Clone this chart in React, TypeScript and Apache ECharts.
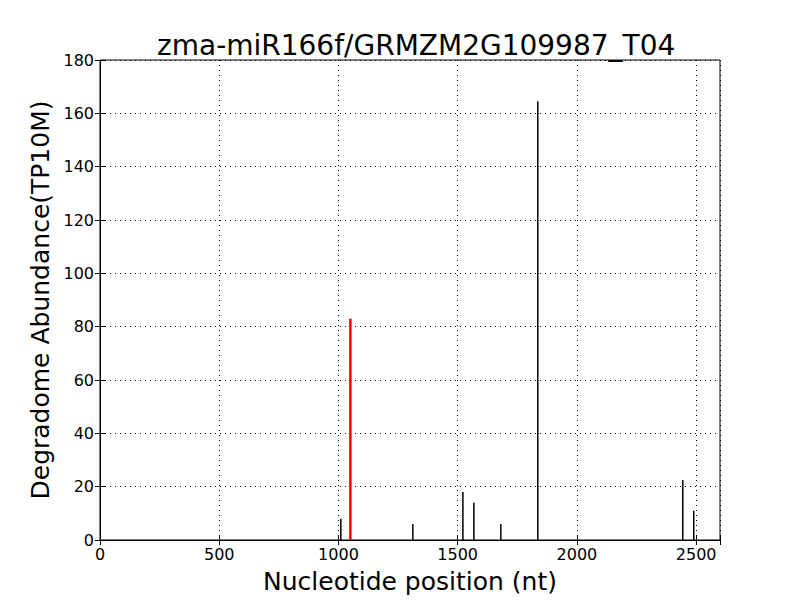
import React, { useEffect, useRef } from "react";
import * as echarts from "echarts";

const titleText = "zma-miR166f/GRMZM2G109987_T04";
const xAxisName = "Nucleotide position (nt)";
const yAxisName = "Degradome Abundance(TP10M)";

const blackPositions = [1012, 1314, 1524, 1570, 1683, 1838, 2446, 2492];
const blackValues = [8, 6, 18, 14, 6, 164.5, 22.5, 11];
const redPositions = [1050];
const redValues = [83];

const FONT = "DejaVu Sans";

export default function App() {
  const ref = useRef<HTMLDivElement>(null);
  useEffect(() => {
    if (!ref.current) return;
    const chart = echarts.init(ref.current, null, { renderer: "svg" });
    const tickLabel = { color: "#000", fontFamily: FONT, fontSize: 16 };
    chart.setOption({
      animation: false,
      backgroundColor: "#fff",
      title: {
        text: titleText,
        left: 152,
        top: 26,
        textStyle: { fontFamily: FONT, fontSize: 28, fontWeight: "normal", color: "#000" },
      },
      grid: {
        left: 100,
        right: 80,
        top: 60,
        bottom: 60,
        show: true,
        borderColor: "#000",
        borderWidth: 1,
        backgroundColor: "transparent",
      },
      xAxis: [
        {
          type: "value",
          min: 0,
          max: 2600,
          interval: 500,
          position: "bottom",
          name: xAxisName,
          nameLocation: "middle",
          nameGap: 29,
          nameTextStyle: { fontFamily: FONT, fontSize: 25, color: "#000" },
          axisLine: { show: true, onZero: false, lineStyle: { color: "#000" } },
          axisTick: { show: true, inside: true, length: 5, lineStyle: { color: "#000" } },
          axisLabel: {
            ...tickLabel,
            margin: 6,
            formatter: (v: number) => (v % 500 === 0 ? String(v) : ""),
          },
          splitLine: { show: true, lineStyle: { type: [1, 4], color: "#000", width: 1 } },
        },
        {
          type: "value",
          min: 0,
          max: 2600,
          interval: 500,
          position: "top",
          axisLine: { show: false },
          axisTick: { show: true, inside: true, length: 5, lineStyle: { color: "#000" } },
          axisLabel: { show: false },
          splitLine: { show: false },
        },
      ],
      yAxis: [
        {
          type: "value",
          min: 0,
          max: 180,
          interval: 20,
          position: "left",
          name: yAxisName,
          nameLocation: "middle",
          nameGap: 45,
          nameTextStyle: { fontFamily: FONT, fontSize: 25, color: "#000" },
          axisLine: { show: true, onZero: false, lineStyle: { color: "#000" } },
          axisTick: { show: true, inside: true, length: 5, lineStyle: { color: "#000" } },
          axisLabel: { ...tickLabel, margin: 6 },
          splitLine: { show: true, lineStyle: { type: [1, 4], color: "#000", width: 1 } },
        },
        {
          type: "value",
          min: 0,
          max: 180,
          interval: 20,
          position: "right",
          axisLine: { show: false },
          axisTick: { show: true, inside: true, length: 5, lineStyle: { color: "#000" } },
          axisLabel: { show: false },
          splitLine: { show: false },
        },
      ],
      series: [
        {
          type: "bar",
          xAxisIndex: 0,
          yAxisIndex: 0,
          barWidth: 1.5,
          barGap: "-100%",
          itemStyle: { color: "#000" },
          data: blackPositions.map((p, i) => [p, blackValues[i]]),
          z: 3,
        },
        {
          type: "bar",
          xAxisIndex: 0,
          yAxisIndex: 0,
          barWidth: 2.5,
          barGap: "-100%",
          itemStyle: { color: "#ff0000" },
          data: redPositions.map((p, i) => [p, redValues[i]]),
          z: 4,
        },
      ],
    });
    return () => chart.dispose();
  }, []);
  return <div ref={ref} style={{ width: 800, height: 600, position: "absolute", left: 0, top: 0 }} />;
}
